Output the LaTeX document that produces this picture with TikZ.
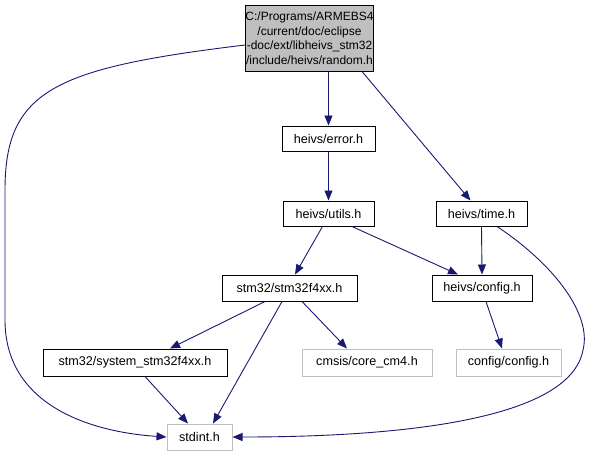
\documentclass[tikz,border=0pt]{standalone}
\usepackage{fontspec}
\setmainfont{Liberation Sans}
\usetikzlibrary{arrows.meta,positioning}
\definecolor{edgeblue}{HTML}{191970}
\definecolor{boxgray}{HTML}{BFBFBF}

\tikzset{
  file/.style={draw=black,line width=1pt,inner sep=0pt,font=\fontsize{12.6}{14.5}\selectfont},
  extfile/.style={file,draw=boxgray},
  dep/.style={draw=edgeblue,line width=0.9pt,-{Triangle[length=10pt,width=8pt]}}
}

\begin{document}
\begin{tikzpicture}[x=1pt,y=-1pt]
\useasboundingbox (0,0) rectangle (590,456);

% files
\node[file,fill=boxgray,minimum width=121pt,minimum height=66pt,align=center,
  font=\fontsize{12}{14.5}\selectfont] (random) at (309.5,38)
  {C:/Programs/ARMEBS4\\/current/doc/eclipse\\-doc/ext/libheivs\_stm32\\/include/heivs/random.h};
\node[file,minimum width=93pt,minimum height=25pt] (error) at (328.5,138.5) {heivs/error.h};
\node[file,minimum width=91pt,minimum height=25pt] (utils) at (328.5,213.5) {heivs/utils.h};
\node[file,minimum width=91pt,minimum height=25pt] (time) at (481.5,213.5) {heivs/time.h};
\node[file,minimum width=135pt,minimum height=26pt] (stm) at (289.5,288) {stm32/stm32f4xx.h};
\node[file,minimum width=100pt,minimum height=26pt] (config) at (482,288) {heivs/config.h};
\node[extfile,minimum width=130pt,minimum height=27pt] (core) at (367,362.5) {cmsis/core\_cm4.h};
\node[extfile,minimum width=105pt,minimum height=27pt] (cfgcfg) at (508.5,362.5) {config/config.h};
\node[file,minimum width=184pt,minimum height=27pt] (system) at (135,362.5) {stm32/system\_stm32f4xx.h};
\node[extfile,minimum width=65pt,minimum height=26pt] (stdint) at (199.5,437) {stdint.h};

% includes
\draw[dep] (random.south -| error.north) -- (error.north);
\draw[dep] ([xshift=-12pt]random.south east) -- ([xshift=-11pt]time.north);
\draw[dep] ([yshift=-7pt]random.west) .. controls (55,68) and (5,90) .. (5,190)
  -- (5,320) .. controls (5,405) and (90,432) .. (stdint.west);
\draw[dep] (error) -- (utils);
\draw[dep] ([xshift=-6pt]utils.south) -- ([xshift=5.5pt]stm.north);
\draw[dep] ([xshift=23.5pt]utils.south) -- ([xshift=-24pt]config.north);
\draw[dep] (time.south) -- (config.north);
\draw[dep] ([xshift=15.5pt]time.south) .. controls (555,265) and (592,315) .. (583,350)
  .. controls (570,420) and (400,437) .. (stdint.east);
\draw[dep] ([xshift=-24.5pt]stm.south) -- ([xshift=35pt]system.north);
\draw[dep] ([xshift=-7.5pt]stm.south) -- ([xshift=13.5pt]stdint.north);
\draw[dep] ([xshift=12.5pt]stm.south) -- ([xshift=-20pt]core.north);
\draw[dep] ([xshift=4pt]config.south) -- ([xshift=-6.5pt]cfgcfg.north);
\draw[dep] ([xshift=10pt]system.south) -- ([xshift=-11.5pt]stdint.north);
\end{tikzpicture}
\end{document}
